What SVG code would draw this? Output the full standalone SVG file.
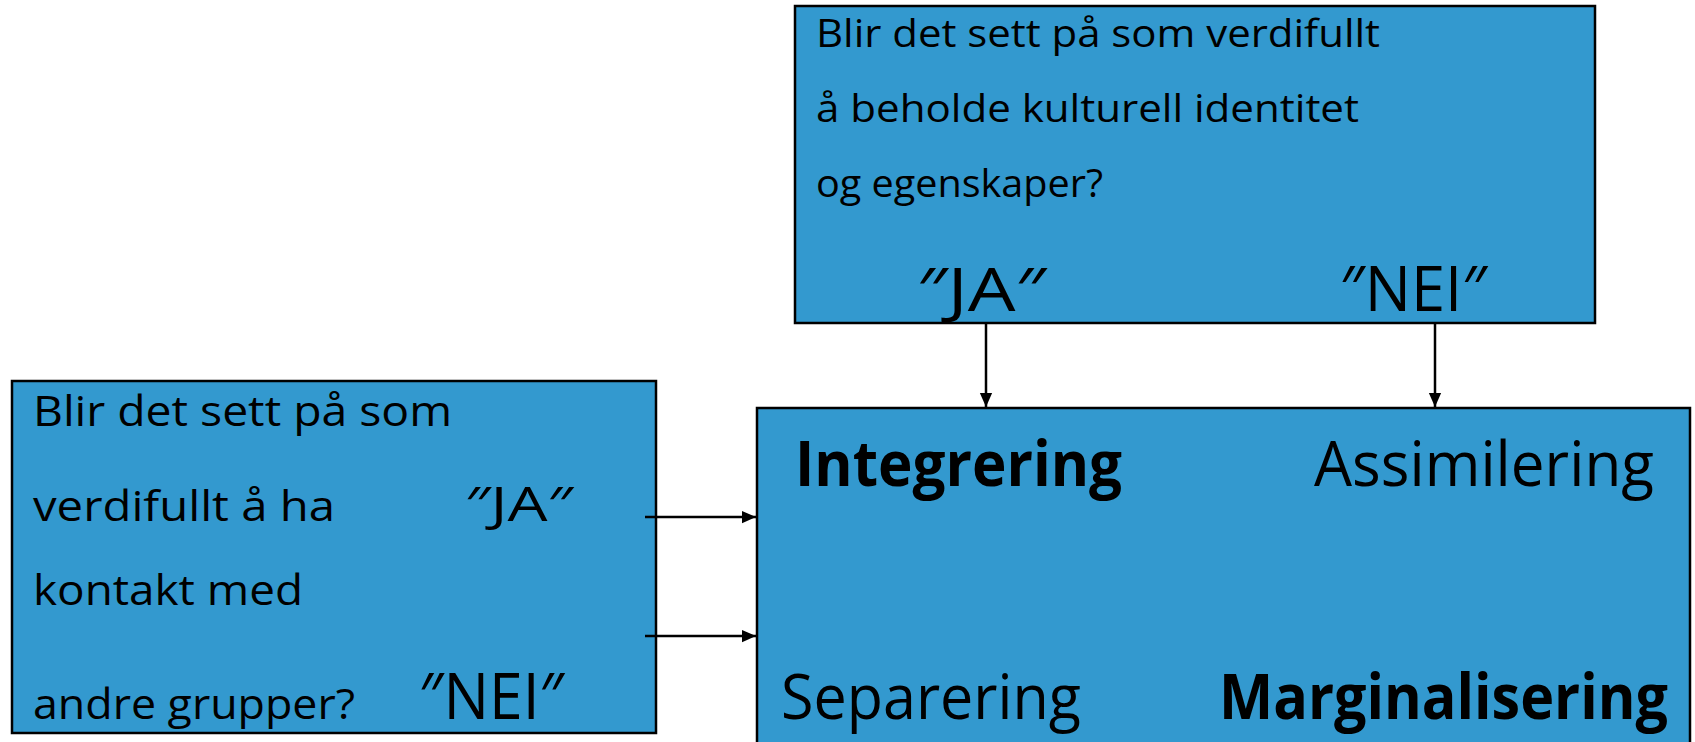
<svg xmlns="http://www.w3.org/2000/svg" width="1695" height="742" viewBox="0 0 1695 742">
<style>
.box{fill:#3399cf;stroke:#000;stroke-width:2.5}
text{font-family:"Open Sans","DejaVu Sans",sans-serif;fill:#000}
.q{font-size:39px}
.l{font-size:42px}
.big{font-size:62px}
.b{font-weight:bold}
.conn{stroke:#000;stroke-width:2.5;fill:none}
</style>
<defs>
<marker id="ahv" markerWidth="14" markerHeight="16" refX="16" refY="7" orient="auto" markerUnits="userSpaceOnUse" viewBox="0 0 16 14">
<path d="M0,0 L16,7 L0,14 Z" fill="#000"/>
</marker>
</defs>
<rect width="1695" height="742" fill="#fff"/>
<g id="node-top">
<rect class="box" x="795" y="6" width="800" height="317"/>
<text class="q" x="816" y="47" textLength="564" lengthAdjust="spacingAndGlyphs">Blir det sett på som verdifullt</text>
<text class="q" x="816" y="122" textLength="543" lengthAdjust="spacingAndGlyphs">å beholde kulturell identitet</text>
<text class="q" x="816" y="197" textLength="287" lengthAdjust="spacingAndGlyphs">og egenskaper?</text>
<text x="917" y="311" font-size="60" textLength="129" lengthAdjust="spacingAndGlyphs">″JA″</text>
<text x="1340" y="311" font-size="62" textLength="147" lengthAdjust="spacingAndGlyphs">″NEI″</text>
</g>
<g id="node-left">
<rect class="box" x="12" y="381" width="644" height="352"/>
<text class="l" x="33" y="426" textLength="419" lengthAdjust="spacingAndGlyphs">Blir det sett på som</text>
<text class="l" x="33" y="521" textLength="302" lengthAdjust="spacingAndGlyphs">verdifullt å ha</text>
<text x="465" y="521" font-size="48" textLength="108" lengthAdjust="spacingAndGlyphs">″JA″</text>
<text class="l" x="33" y="605" textLength="270" lengthAdjust="spacingAndGlyphs">kontakt med</text>
<text class="l" x="33" y="719" textLength="322" lengthAdjust="spacingAndGlyphs">andre grupper?</text>
<text x="419" y="719" font-size="64" textLength="145" lengthAdjust="spacingAndGlyphs">″NEI″</text>
</g>
<g id="node-main">
<rect class="box" x="757" y="408" width="933" height="360"/>
<text class="big b" x="795" y="486" textLength="327" lengthAdjust="spacingAndGlyphs">Integrering</text>
<text class="big" x="1314" y="486" textLength="340" lengthAdjust="spacingAndGlyphs">Assimilering</text>
<text class="big" x="781" y="719" textLength="300" lengthAdjust="spacingAndGlyphs">Separering</text>
<text class="big b" x="1219" y="719" textLength="449" lengthAdjust="spacingAndGlyphs">Marginalisering</text>
</g>
<g id="connectors">
<line class="conn" x1="986" y1="323" x2="986" y2="407" marker-end="url(#ahv)"/>
<line class="conn" x1="1435" y1="323" x2="1435" y2="407" marker-end="url(#ahv)"/>
<line class="conn" x1="645" y1="517" x2="756" y2="517" marker-end="url(#ahv)"/>
<line class="conn" x1="645" y1="636" x2="756" y2="636" marker-end="url(#ahv)"/>
</g>
</svg>
